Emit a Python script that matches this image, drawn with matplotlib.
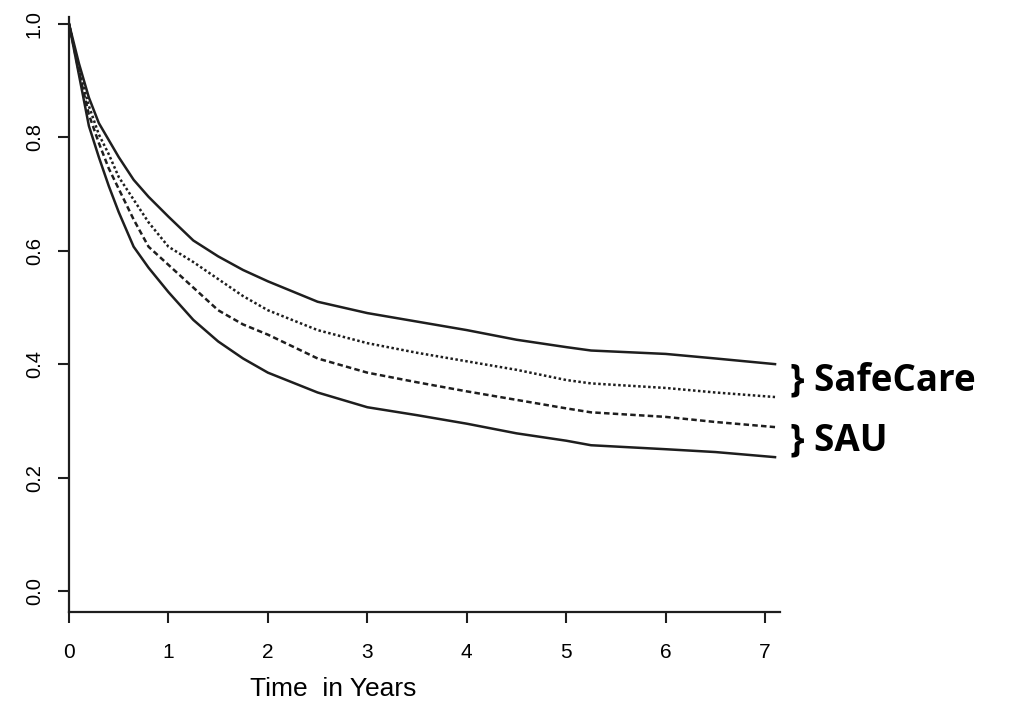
import numpy as np
import matplotlib
matplotlib.use("Agg")
import matplotlib.pyplot as plt

# time grid (years) and survival estimates
years = [0, 0.05, 0.1, 0.2, 0.3, 0.4, 0.5, 0.65, 0.8, 1.0, 1.25, 1.5, 1.75, 2.0, 2.5,
         3.0, 3.5, 4.0, 4.5, 5.0, 5.25, 6.0, 6.5, 7.1]
safecare_hi = [1.0, 0.965, 0.93, 0.87, 0.825, 0.795, 0.765, 0.725, 0.695, 0.66, 0.618,
               0.59, 0.566, 0.546, 0.51, 0.49, 0.475, 0.46, 0.443, 0.43, 0.424, 0.418,
               0.41, 0.40]
safecare_lo = [1.0, 0.96, 0.92, 0.855, 0.805, 0.77, 0.73, 0.69, 0.65, 0.607, 0.58,
               0.55, 0.52, 0.495, 0.46, 0.437, 0.42, 0.405, 0.39, 0.372, 0.366, 0.358,
               0.35, 0.342]
sau_hi = [1.0, 0.958, 0.915, 0.84, 0.79, 0.745, 0.709, 0.655, 0.607, 0.575, 0.535,
          0.495, 0.47, 0.452, 0.41, 0.385, 0.368, 0.352, 0.337, 0.322, 0.315, 0.307,
          0.298, 0.289]
sau_lo = [1.0, 0.955, 0.91, 0.82, 0.765, 0.714, 0.668, 0.607, 0.57, 0.527, 0.478,
          0.44, 0.41, 0.385, 0.35, 0.324, 0.31, 0.295, 0.278, 0.265, 0.257, 0.25,
          0.245, 0.236]

xticks = [0, 1, 2, 3, 4, 5, 6, 7]
yticks = [0.0, 0.2, 0.4, 0.6, 0.8, 1.0]

tickfont = ['Liberation Sans', 'DejaVu Sans']
boldfont = ['Open Sans', 'DejaVu Sans']

fig = plt.figure(figsize=(10.12, 7.06), dpi=100)
ax = fig.add_axes([69/1012, 94/706, 711/1012, 595/706])

col = '#1e1e1e'
ax.plot(years, safecare_hi, color=col, lw=1.8, ls='-')
ax.plot(years, safecare_lo, color=col, lw=1.8, ls=(0, (1, 1)))
ax.plot(years, sau_hi, color=col, lw=1.8, ls=(0, (2.2, 1.3)))
ax.plot(years, sau_lo, color=col, lw=1.8, ls='-')

ax.set_xlim(0, 7.15)
ax.set_ylim(-0.037, 1.012)
ax.spines['top'].set_visible(False)
ax.spines['right'].set_visible(False)
for s in ['left', 'bottom']:
    ax.spines[s].set_linewidth(1.6)
    ax.spines[s].set_color(col)

ax.set_xticks(xticks)
ax.set_xticklabels([str(v) for v in xticks], family=tickfont, fontsize=15)
ax.set_yticks(yticks)
ax.set_yticklabels(['%.1f' % v for v in yticks], family=tickfont, fontsize=14.5,
                   rotation=90, va='center')
ax.tick_params(direction='out', length=8, width=1.5, color=col)
ax.tick_params(axis='x', pad=14)
ax.tick_params(axis='y', pad=10)

ax.set_xlabel('Time  in Years', family=tickfont, fontsize=19, labelpad=14)
ax.xaxis.set_label_coords(0.371, -0.11)

ax.text(7.25, 0.354, '} SafeCare', family=boldfont, fontweight='bold',
        fontsize=26.5, va='baseline', ha='left', clip_on=False)
ax.text(7.25, 0.248, '} SAU', family=boldfont, fontweight='bold',
        fontsize=26.5, va='baseline', ha='left', clip_on=False)

fig.savefig('out.png', dpi=100)
